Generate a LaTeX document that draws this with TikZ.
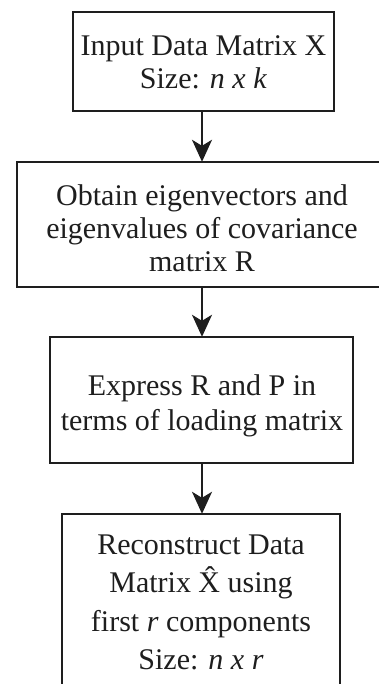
\documentclass[tikz,border=0pt]{standalone}
\usepackage{fontspec}
\setmainfont{Liberation Serif}
\usetikzlibrary{arrows.meta}
\definecolor{ink}{HTML}{1E1E1E}
\tikzset{
  stepbox/.style={draw=ink, line width=2.4pt, fill=white, inner sep=0pt},
  steptext/.style={align=center, text=ink, inner sep=0pt},
  flow/.style={draw=ink, line width=2pt,
    -{Stealth[length=22pt, width=20pt, inset=6pt]}, shorten >=-1pt},
}
\begin{document}
\begin{tikzpicture}[x=1pt, y=-1pt]
  \useasboundingbox (0,0) rectangle (379,684);

  % step boxes (box 2 runs past the right edge, box 4 past the bottom)
  \node[stepbox, minimum width=261pt, minimum height=99pt]  (b1) at (203.5,61.5) {};
  \node[stepbox, minimum width=373pt, minimum height=125pt] (b2) at (203.5,224.5) {};
  \node[stepbox, minimum width=303pt, minimum height=126pt] (b3) at (201.5,400) {};
  \node[stepbox, minimum width=278pt, minimum height=186pt] (b4) at (201,607) {};

  % step texts
  \node[steptext, font=\fontsize{30}{33}\selectfont] (t1) at (203.5,62.5)
    {Input Data Matrix X\\ Size: \textit{n x k}};
  \node[steptext, font=\fontsize{30}{33}\selectfont] (t2) at (202,228.5)
    {Obtain eigenvectors and\\ eigenvalues of covariance\\ matrix R};
  \node[steptext, font=\fontsize{30}{35}\selectfont] (t3) at (202,405.5)
    {Express R and P in\\ terms of loading matrix};
  \node[steptext, font=\fontsize{30}{38.3}\selectfont] (t4) at (201,602.5)
    {Reconstruct Data\\ Matrix \^{X} using\\ first \textit{r} components\\ Size: \textit{n x r}};

  % connectors
  \coordinate (a1) at (202,0);
  \draw[flow] (b1.south -| a1) -- (b2.north -| a1);
  \draw[flow] (b2.south -| a1) -- (b3.north -| a1);
  \draw[flow] (b3.south -| a1) -- (b4.north -| a1);
\end{tikzpicture}
\end{document}
